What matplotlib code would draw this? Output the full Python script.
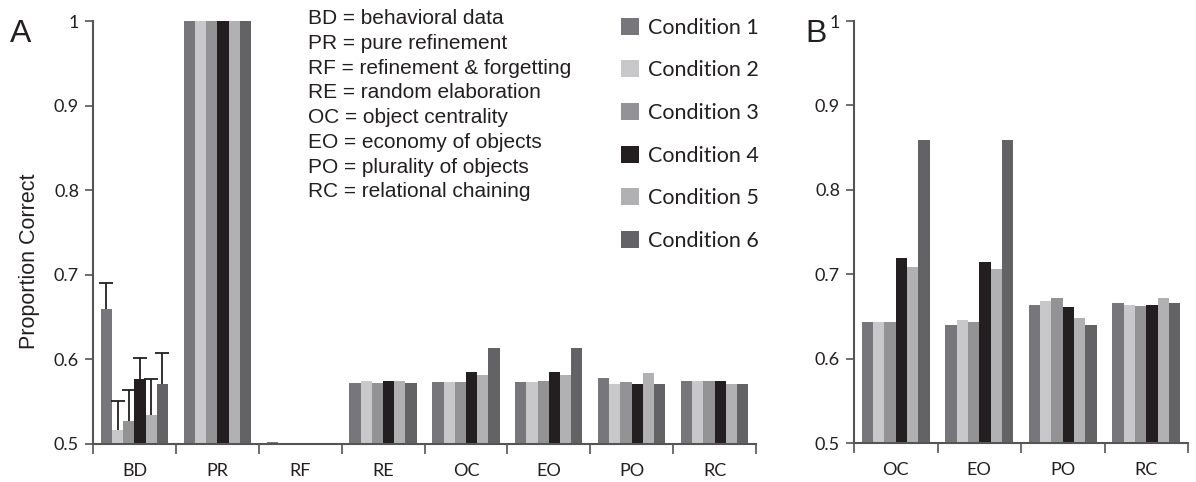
import matplotlib
matplotlib.use('Agg')
import matplotlib.pyplot as plt
import numpy as np

# categories and conditions
groups_a = ['BD', 'PR', 'RF', 'RE', 'OC', 'EO', 'PO', 'RC']
groups_b = ['OC', 'EO', 'PO', 'RC']
conditions = ['Condition 1', 'Condition 2', 'Condition 3',
              'Condition 4', 'Condition 5', 'Condition 6']
colors = ['#77777b', '#c8c8ca', '#939396', '#231f20', '#b1b1b4', '#636365']

# panel A values, one list per condition (order follows groups_a)
cond1_a = [0.659, 1.0, 0.5025, 0.5725, 0.573, 0.573, 0.578, 0.5745]
cond2_a = [0.516, 1.0, 0.5, 0.5745, 0.573, 0.573, 0.571, 0.5745]
cond3_a = [0.527, 1.0, 0.5008, 0.5725, 0.573, 0.5745, 0.573, 0.5745]
cond4_a = [0.577, 1.0, 0.5, 0.5745, 0.5855, 0.5855, 0.571, 0.5745]
cond5_a = [0.534, 1.0, 0.5008, 0.5745, 0.5816, 0.5816, 0.584, 0.571]
cond6_a = [0.571, 1.0, 0.5, 0.5725, 0.613, 0.613, 0.571, 0.571]

# upper error bars for the behavioral data (BD)
bd_err = [0.031, 0.035, 0.037, 0.025, 0.043, 0.036]

# panel B values (order follows groups_b)
cond1_b = [0.643, 0.640, 0.664, 0.666]
cond2_b = [0.643, 0.646, 0.668, 0.664]
cond3_b = [0.643, 0.643, 0.672, 0.662]
cond4_b = [0.719, 0.715, 0.661, 0.664]
cond5_b = [0.708, 0.706, 0.648, 0.672]
cond6_b = [0.859, 0.859, 0.640, 0.666]

values_a = [cond1_a, cond2_a, cond3_a, cond4_a, cond5_a, cond6_a]
values_b = [cond1_b, cond2_b, cond3_b, cond4_b, cond5_b, cond6_b]

tick_font = 'Lato'
text_font = 'Liberation Sans'
axis_col = '#555555'


def draw_panel(ax, groups, values):
    x = np.arange(len(groups))
    w = 0.81 / len(values)
    bars = []
    for i, vals in enumerate(values):
        b = ax.bar(x - 0.405 + w * (i + 0.5), np.array(vals) - 0.5, width=w,
                   bottom=0.5, color=colors[i], linewidth=0)
        bars.append(b)
    ax.set_xlim(-0.5, len(groups) - 0.5)
    ax.set_ylim(0.5, 1.0)
    ax.set_yticks([0.5, 0.6, 0.7, 0.8, 0.9, 1.0])
    ax.set_yticklabels(['0.5', '0.6', '0.7', '0.8', '0.9', '1'],
                       fontfamily=tick_font, fontsize=13, color='#231f20')
    # ticks sit between the groups, labels in the middle
    ax.set_xticks(np.arange(len(groups) + 1) - 0.5)
    ax.set_xticklabels([])
    ax.set_xticks(x, minor=True)
    ax.set_xticklabels(groups, minor=True, fontfamily=tick_font,
                       fontsize=13, color='#231f20')
    ax.tick_params(axis='x', which='minor', length=0, pad=14)
    ax.tick_params(axis='x', which='major', length=7, width=1.2,
                   direction='out', color=axis_col)
    ax.tick_params(axis='y', length=6, width=1.2, color=axis_col, pad=4)
    for s in ['top', 'right']:
        ax.spines[s].set_visible(False)
    for s in ['left', 'bottom']:
        ax.spines[s].set_color(axis_col)
        ax.spines[s].set_linewidth(1.5)
    return bars, x, w


fig = plt.figure(figsize=(11.96, 4.82), dpi=100)
ax_a = fig.add_axes([93 / 1196, 38 / 482, 663 / 1196, 423 / 482])
ax_b = fig.add_axes([854 / 1196, 39 / 482, 334 / 1196, 422 / 482])

bars, x, w = draw_panel(ax_a, groups_a, values_a)
draw_panel(ax_b, groups_b, values_b)

# one-sided error bars on BD
bd_x = [x[0] - 0.405 + w * (i + 0.5) for i in range(6)]
bd_y = [v[0] for v in values_a]
eb = ax_a.errorbar(bd_x, bd_y, yerr=[[0] * 6, bd_err], fmt='none',
                   ecolor='#231f20', elinewidth=1.3, capsize=5, capthick=1.3)
eb[1][0].set_visible(False)

fig.text(30 / 1196, 1 - 261 / 482, 'Proportion Correct', fontfamily=text_font,
         fontsize=15.5, color='#231f20', rotation=90, ha='center', va='center')

# abbreviations
abbrev = ['BD = behavioral data', 'PR = pure refinement',
          'RF = refinement & forgetting', 'RE = random elaboration',
          'OC = object centrality', 'EO = economy of objects',
          'PO = plurality of objects', 'RC = relational chaining']
fig.text(308 / 1196, 1 - 9 / 482, '\n'.join(abbrev), fontfamily=text_font,
         fontsize=15, color='#231f20', va='top', ha='left', linespacing=1.385)

leg = fig.legend(bars, conditions, loc='upper left',
                 bbox_to_anchor=(612 / 1196, 1 - 9 / 482), frameon=False,
                 prop={'family': tick_font, 'size': 15.5},
                 handlelength=0.85, handleheight=0.85, handletextpad=0.4,
                 labelspacing=1.05, borderaxespad=0)
for t in leg.get_texts():
    t.set_color('#231f20')

fig.text(10 / 1196, 1 - 42 / 482, 'A', fontfamily=text_font, fontsize=23,
         color='#231f20')
fig.text(805 / 1196, 1 - 42 / 482, 'B', fontfamily=text_font, fontsize=23,
         color='#231f20')

fig.savefig('out.png', dpi=100)
plt.close('all')
